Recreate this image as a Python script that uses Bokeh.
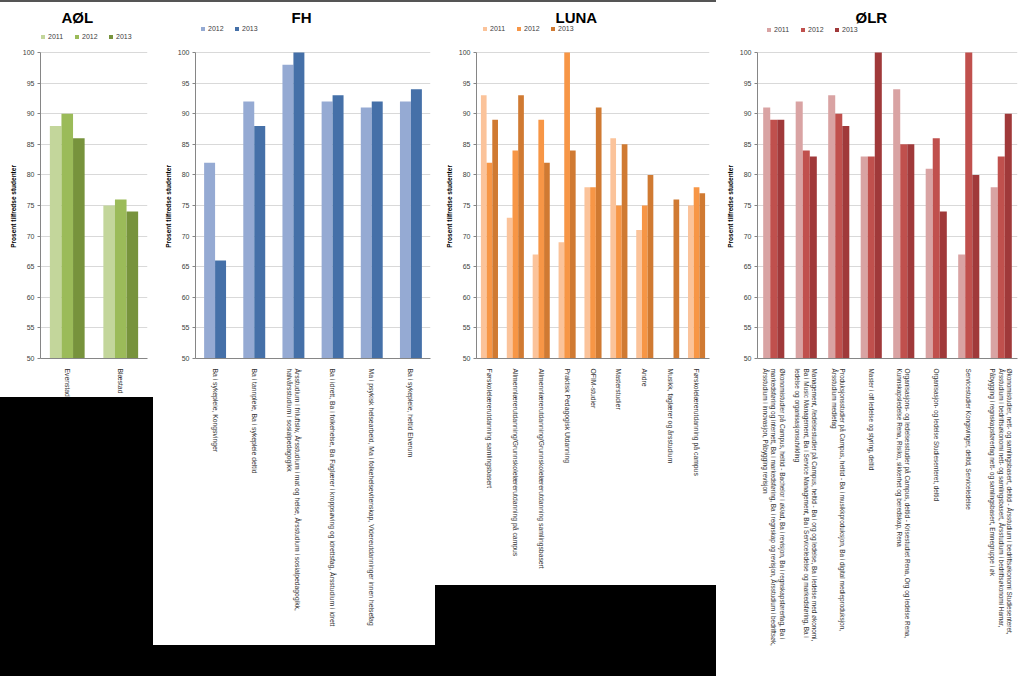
import math
from bokeh.plotting import figure
from bokeh.models import (FactorRange, Range1d, FixedTicker, Legend, LegendItem,
                          ColumnDataSource)
from bokeh.layouts import row
from bokeh.transform import dodge
from bokeh.embed import file_html
from bokeh.resources import INLINE

NAN = float("nan")

# ---------------- data ----------------
years_aol = ["2011", "2012", "2013"]
aol_categories = ["Evenstad", "Blæstad"]
aol_2011 = [88, 75]
aol_2012 = [90, 76]
aol_2013 = [86, 74]

years_fh = ["2012", "2013"]
fh_categories = [
    "Ba i sykepleie, Kongsvinger",
    "Ba i tannpleie, Ba i sykepleie deltid",
    "Årsstudium i friluftsliv, Årsstudium i mat og helse, Årsstudium i sosialpedagogikk,\nhalvårsstudium i sosialpedagogikk",
    "Ba i idrett, Ba i folkehelse, Ba Faglærer i kroppsøving og idrettsfag, Årsstudium i idrett",
    "Ma i psykisk helsearbeid, Ma i folkehelsevitenskap, Videreutdanninger innen helsefag",
    "Ba i sykepleie, heltid Elverum",
]
fh_2012 = [82, 92, 98, 92, 91, 92]
fh_2013 = [66, 88, 100, 93, 92, 94]

years_luna = ["2011", "2012", "2013"]
luna_categories = [
    "Førskolelærerutdanning samlingsbasert",
    "Allmennlærerutdanning/Grunnskolelærerutdanning på campus",
    "Allmennlærerutdanning/Grunnskolelærerutdanning samlingsbasert",
    "Praktisk Pedagogisk Utdanning",
    "OFIM-studier",
    "Masterstudier",
    "Andre",
    "Musikk, faglærer og årsstudium",
    "Førskolelærerutdanning på campus",
]
luna_2011 = [93, 73, 67, 69, 78, 86, 71, NAN, 75]
luna_2012 = [82, 84, 89, 100, 78, 75, 75, NAN, 78]
luna_2013 = [89, 93, 82, 84, 91, 85, 80, 76, 77]

years_olr = ["2011", "2012", "2013"]
olr_categories = [
    "Økonomistudier på Campus, heltid - Bachelor i øk/ad, Ba i revisjon, Ba i regnskapsførerfag, Ba i\nmarkedsføring og internett, Ba i markedsføring, Ba i regnskap og revisjon, Årsstudium i bedriftsøk,\nÅrsstudium i innovasjon, Påbygging revisjon",
    "Management, /ledelsestudier på Campus, heltid - Ba i org og ledelse, Ba i ledelse med økonomi,\nBa i Music Management, Ba i Service Management, Ba i Serviceledelse og markedsføring, Ba i\nledelse og organisasjonsutvikling",
    "Produksjonsstudier på Campus, heltid - Ba i musikkproduksjon, Ba i digital medieproduksjon,\nÅrsstudium mediefag",
    "Master i off ledelse og styring, deltid",
    "Organisasjons- og ledelsesstudier på Campus, deltid - Krisestudiet Rena, Org og ledelse Rena,\nKunnskapsledelse Rena, Risiko, sikkerhet og beredskap, Rena",
    "Organisasjon- og ledelse Studiesenteret, deltid",
    "Servicestudier Kongsvinger, deltid, Serviceledelse",
    "Økonomistudier, nett- og samlingsbasert, deltid - Årsstudium i bedriftsøkonomi Studiesenteret,\nÅrsstudium i bedriftsøkonomi nett- og samlingsbasert, Årsstudium i bedriftsøkonomi Hamar,\nPåbygging i regnskapsførerfag nett- og samlingsbasert, Emnegruppe i øk",
]
olr_2011 = [91, 92, 93, 83, 94, 81, 67, 78]
olr_2012 = [89, 84, 90, 83, 85, 86, 100, 83]
olr_2013 = [89, 83, 88, 100, 85, 74, 80, 90]

y_ticks = [50, 55, 60, 65, 70, 75, 80, 85, 90, 95, 100]
y_label = "Prosent tilfredse studenter"

FONT = "Liberation Sans"
H = 676
TOP = 25          # frame top (px)
BOTTOM = 358      # frame bottom (px)
Y_TOP = 100 + (52 - TOP) * 50.0 / (BOTTOM - 52)


def make_panel(title, cats, years, series, colors, width, white_h, top_line,
               b_left, b_right, title_offset, group_w, leg_x, leg_dy, cat_font):
    bg = "linear-gradient(to bottom, %s 0px, %s 2px, #ffffff 2px, #ffffff %dpx, #000000 %dpx, #000000 100%%)" % (
        top_line, top_line, white_h, white_h)
    p = figure(x_range=FactorRange(*cats, range_padding=0, factor_padding=0),
               y_range=Range1d(50, Y_TOP), width=width, height=H,
               output_backend="svg", toolbar_location=None,
               min_border_left=b_left, min_border_right=b_right,
               min_border_top=TOP, min_border_bottom=H - BOTTOM,
               background_fill_color=None, border_fill_color=None,
               outline_line_color=None, styles={"background": bg})
    p.title.text = title
    p.title.align = "left"
    p.title.offset = title_offset
    p.title.text_font = FONT
    p.title.text_font_size = "15px"
    p.title.text_font_style = "bold"
    p.title.text_color = "black"
    p.title.standoff = 0

    n = len(series)
    w = group_w / n
    items = []
    for i, (yr, vals, col) in enumerate(zip(years, series, colors)):
        off = (i - (n - 1) / 2) * w
        src = ColumnDataSource(dict(cat=cats, top=vals))
        r = p.vbar(x=dodge("cat", off, range=p.x_range), top="top", bottom=50,
                   width=w, fill_color=col, line_color=None, source=src)
        items.append(LegendItem(label=yr, renderers=[r]))

    frame_h = BOTTOM - TOP
    leg = Legend(items=items, orientation="horizontal",
                 location=(leg_x, frame_h - leg_dy),
                 padding=0, margin=0, spacing=6, label_standoff=3,
                 glyph_width=5, glyph_height=5, label_height=8,
                 label_text_font=FONT, label_text_font_size="7px",
                 label_text_color="#404040", border_line_color=None,
                 background_fill_color=None)
    p.add_layout(leg)

    p.yaxis.ticker = FixedTicker(ticks=y_ticks)
    p.yaxis.bounds = (50, 100)
    p.yaxis.axis_label = y_label + "\u00a0" * 16
    p.yaxis.axis_label_text_font = FONT
    p.yaxis.axis_label_text_font_size = "6.5px"
    p.yaxis.axis_label_text_font_style = "bold"
    p.yaxis.axis_label_text_color = "black"
    p.yaxis.axis_label_standoff = 3
    p.yaxis.major_label_text_font = FONT
    p.yaxis.major_label_text_font_size = "7px"
    p.yaxis.major_label_text_color = "#404040"
    p.yaxis.major_label_standoff = 3
    p.yaxis.major_tick_in = 0
    p.yaxis.major_tick_out = 3
    p.yaxis.major_tick_line_color = "#868686"
    p.yaxis.minor_tick_line_color = None
    p.yaxis.axis_line_color = "#868686"

    p.xaxis.major_label_orientation = -math.pi / 2
    p.xaxis.major_label_text_font = FONT
    p.xaxis.major_label_text_font_size = cat_font
    p.xaxis.major_label_text_color = "#333333"
    p.xaxis.major_label_standoff = 4
    p.xaxis.major_tick_line_color = None
    p.xaxis.axis_line_color = "#868686"

    p.xgrid.grid_line_color = None
    p.ygrid.grid_line_color = "#D9D9D9"
    return p


p_aol = make_panel("AØL", aol_categories, years_aol, [aol_2011, aol_2012, aol_2013],
                   ["#C3D69B", "#9BBB59", "#77933C"], 153, 397, "#555555",
                   40, 6, 21, 0.65, 0, 15, "6.8px")
p_fh = make_panel("FH", fh_categories, years_fh, [fh_2012, fh_2013],
                  ["#95AAD3", "#4570A8"], 282, 645, "#555555",
                  42, 5, 96, 0.56, 5, 7, "6.8px")
p_luna = make_panel("LUNA", luna_categories, years_luna, [luna_2011, luna_2012, luna_2013],
                    ["#FBC39A", "#F79646", "#D07A32"], 281, 585, "#555555",
                    41, 7, 79, 0.66, 6, 7, "6.8px")
p_olr = make_panel("ØLR", olr_categories, years_olr, [olr_2011, olr_2012, olr_2013],
                   ["#D9A3A3", "#C0504D", "#A0393A"], 308, 676, "#ffffff",
                   41, 7, 98, 0.65, 9, 8, "6.4px")

layout = row(p_aol, p_fh, p_luna, p_olr, spacing=0)

open("out.html", "w").write(file_html(layout, INLINE))
